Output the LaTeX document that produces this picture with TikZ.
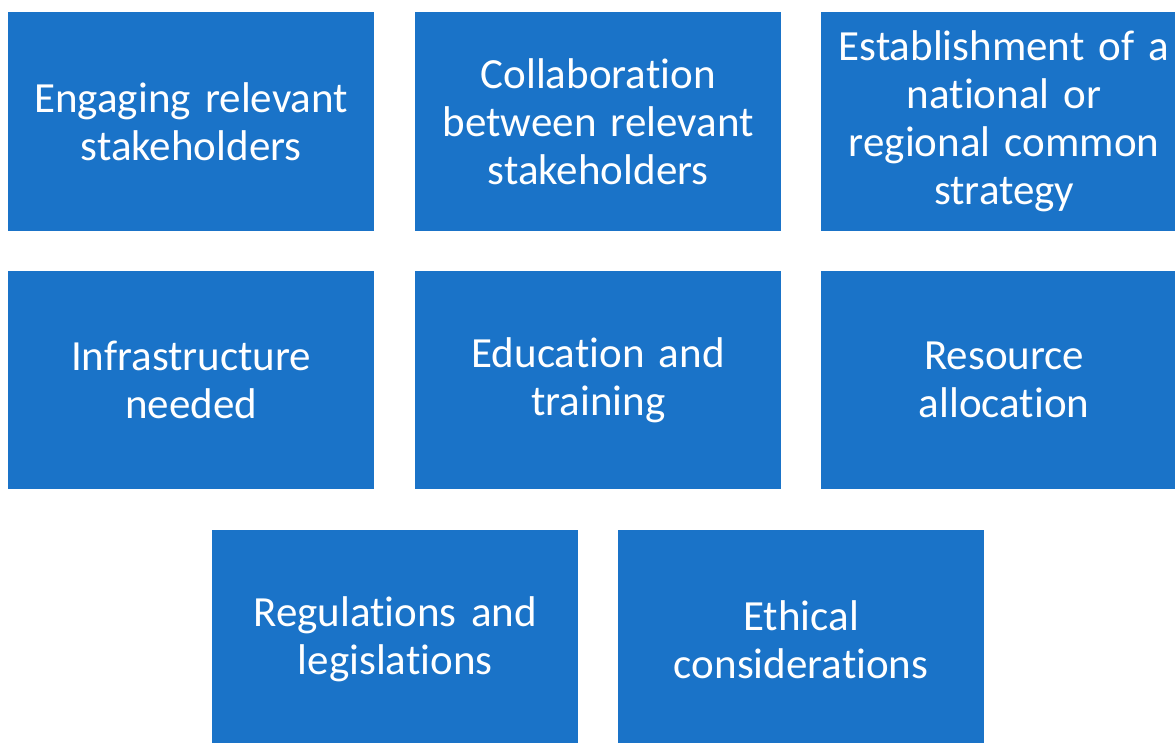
\documentclass[tikz,border=0pt]{standalone}
\usepackage{fontspec}
\setmainfont{Carlito}[Ligatures=NoCommon]
\definecolor{boxblue}{RGB}{26,115,200}
\begin{document}
\begin{tikzpicture}[x=1pt,y=-1pt,
  card/.style={fill=boxblue,draw=none,minimum width=366pt,minimum height=219pt,
    text width=360pt,align=center,text=white,inner sep=0pt,
    font=\fontsize{43}{48}\selectfont,anchor=north west}]
\clip (0,0) rectangle (1175,742);
\useasboundingbox (0,0) rectangle (1175,742);
\node[card] (a) at (8,12) {Engaging relevant\\stakeholders};
\node[card] (b) at (415,12) {Collaboration\\between relevant\\stakeholders};
\node[card] (c) at (821,12) {Establishment of a\\national or\\regional common\\strategy};
\node[card,minimum height=218pt] (d) at (8,271) {Infrastructure\\needed};
\node[card,minimum height=218pt] (e) at (415,271) {Education and\\training};
\node[card,minimum height=218pt] (f) at (821,271) {Resource\\allocation};
\node[card] (g) at (212,530) {Regulations and\\legislations};
\node[card] (h) at (618,530) {Ethical\\considerations};
\end{tikzpicture}
\end{document}
